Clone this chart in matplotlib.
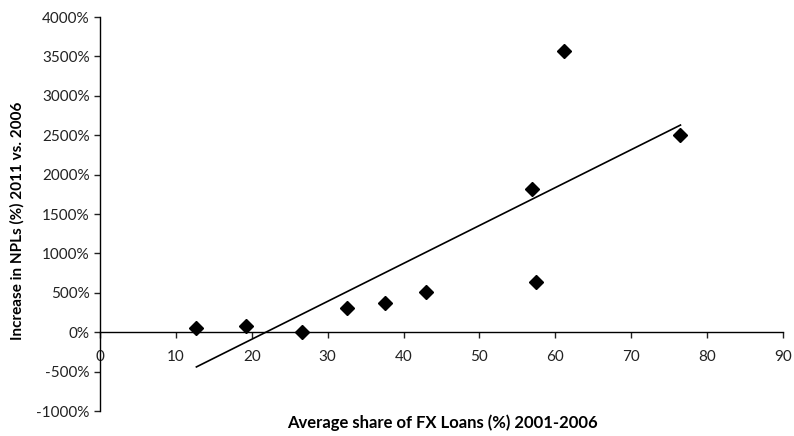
import numpy as np
import matplotlib.pyplot as plt

plt.rcParams['font.family'] = ['Lato', 'DejaVu Sans']

# average share of FX loans 2001-2006 (%) and increase in NPLs 2011 vs 2006 (%)
fx_share = [12.7, 19.2, 26.6, 32.5, 37.6, 43.0, 56.9, 57.5, 61.1, 76.5]
npl_increase = [60, 80, 10, 313, 377, 511, 1815, 638, 3570, 2500]

xticks = [0, 10, 20, 30, 40, 50, 60, 70, 80, 90]
yticks = [-1000, -500, 0, 500, 1000, 1500, 2000, 2500, 3000, 3500, 4000]

fig = plt.figure(figsize=(7.94, 4.36), dpi=100)
ax = fig.add_axes([0.126, 0.057, 0.86, 0.904])

ax.plot(fx_share, npl_increase, 'D', color='k', markersize=7.6, linestyle='none')

slope, intercept = np.polyfit(fx_share, npl_increase, 1)
xs = np.array([min(fx_share), max(fx_share)])
ax.plot(xs, intercept + slope * xs, color='k', linewidth=1.2)

ax.set_xlim(0, 90)
ax.set_ylim(-1000, 4000)
ax.set_xticks(xticks)
ax.set_yticks(yticks)
ax.set_yticklabels(['%d%%' % v for v in yticks])

ax.spines['top'].set_visible(False)
ax.spines['right'].set_visible(False)
ax.spines['bottom'].set_position(('data', 0))
ax.spines['left'].set_linewidth(1.0)
ax.spines['bottom'].set_linewidth(1.0)
ax.tick_params(direction='out', length=4, width=1.0, labelsize=11, colors='#222222')
ax.tick_params(axis='x', pad=9)

fig.text(0.557, 0.012, 'Average share of FX Loans (%) 2001-2006', ha='center', va='bottom',
         fontsize=12, fontweight='bold')
fig.text(0.022, 0.493, 'Increase in NPLs (%) 2011 vs. 2006', ha='center', va='center',
         rotation=90, fontsize=11, fontweight='bold')

fig.savefig('out.png', dpi=100)
